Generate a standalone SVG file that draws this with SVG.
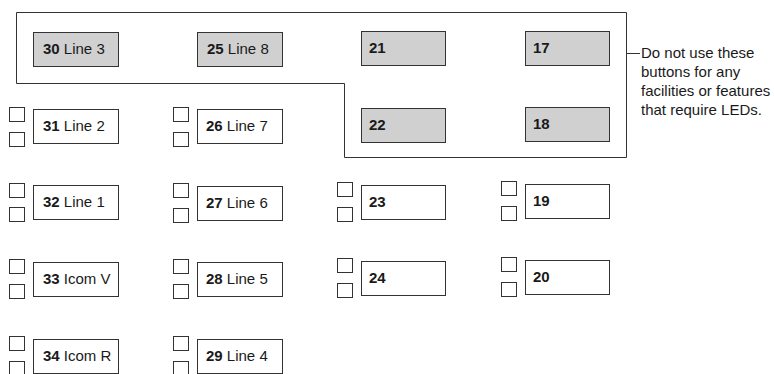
<svg xmlns="http://www.w3.org/2000/svg" width="774" height="374" viewBox="0 0 774 374">
<style>
.btn{stroke:#333;stroke-width:1;fill:#fff}
.gray{fill:#d0d0d0}
.cb{stroke:#333;stroke-width:1;fill:#fff}
.t{font-family:"Liberation Sans",Arial,sans-serif;font-size:15px;fill:#1a1a1a}
.b{font-weight:bold}
.ln{stroke:#333;stroke-width:1;fill:none}
</style>
<rect width="774" height="374" fill="#fff"/>
<g id="connectors">
<path class="ln" d="M16.5,12.5 H626.5 V157.5 H344.5 V83.5 H16.5 Z"/>
<path class="ln" d="M626.5,53.5 H640"/>
</g>
<g id="note">
<text class="t" x="641" y="58">Do not use these</text>
<text class="t" x="641" y="77">buttons for any</text>
<text class="t" x="641" y="96">facilities or features</text>
<text class="t" x="641" y="115">that require LEDs.</text>
</g>
<g id="b30"><rect class="btn gray" x="33.5" y="32.5" width="85" height="34"/><text class="t" x="43" y="54"><tspan class="b">30</tspan> Line 3</text></g>
<g id="b25"><rect class="btn gray" x="197.5" y="32.5" width="85" height="34"/><text class="t" x="207" y="54"><tspan class="b">25</tspan> Line 8</text></g>
<g id="b21"><rect class="btn gray" x="361.5" y="31.5" width="84" height="34"/><text class="t b" x="369" y="53">21</text></g>
<g id="b17"><rect class="btn gray" x="525.5" y="31.5" width="84" height="34"/><text class="t b" x="533" y="53">17</text></g>
<g id="b22"><rect class="btn gray" x="361.5" y="108.5" width="84" height="34"/><text class="t b" x="369" y="130">22</text></g>
<g id="b18"><rect class="btn gray" x="525.5" y="107.5" width="84" height="34"/><text class="t b" x="533" y="129">18</text></g>

<g id="b31"><rect class="cb" x="9.5" y="107.5" width="15" height="14"/><rect class="cb" x="9.5" y="132.5" width="15" height="14"/><rect class="btn" x="33.5" y="109.5" width="85" height="34"/><text class="t" x="43" y="131"><tspan class="b">31</tspan> Line 2</text></g>
<g id="b26"><rect class="cb" x="173.5" y="107.5" width="15" height="14"/><rect class="cb" x="173.5" y="132.5" width="15" height="14"/><rect class="btn" x="197.5" y="109.5" width="85" height="34"/><text class="t" x="206" y="131"><tspan class="b">26</tspan> Line 7</text></g>

<g id="b32"><rect class="cb" x="9.5" y="183.5" width="15" height="14"/><rect class="cb" x="9.5" y="207.5" width="15" height="14"/><rect class="btn" x="33.5" y="185.5" width="85" height="34"/><text class="t" x="43" y="207"><tspan class="b">32</tspan> Line 1</text></g>
<g id="b27"><rect class="cb" x="173.5" y="183.5" width="15" height="14"/><rect class="cb" x="173.5" y="208.5" width="15" height="14"/><rect class="btn" x="197.5" y="186.5" width="85" height="34"/><text class="t" x="206" y="208"><tspan class="b">27</tspan> Line 6</text></g>
<g id="b23"><rect class="cb" x="337.5" y="182.5" width="15" height="14"/><rect class="cb" x="337.5" y="207.5" width="15" height="14"/><rect class="btn" x="361.5" y="185.5" width="84" height="34"/><text class="t b" x="369" y="207">23</text></g>
<g id="b19"><rect class="cb" x="501.5" y="181.5" width="15" height="14"/><rect class="cb" x="501.5" y="206.5" width="15" height="14"/><rect class="btn" x="525.5" y="184.5" width="84" height="34"/><text class="t b" x="533" y="206">19</text></g>

<g id="b33"><rect class="cb" x="9.5" y="259.5" width="15" height="14"/><rect class="cb" x="9.5" y="284.5" width="15" height="14"/><rect class="btn" x="33.5" y="262.5" width="85" height="34"/><text class="t" x="43" y="284"><tspan class="b">33</tspan> Icom V</text></g>
<g id="b28"><rect class="cb" x="173.5" y="259.5" width="15" height="14"/><rect class="cb" x="173.5" y="284.5" width="15" height="14"/><rect class="btn" x="197.5" y="262.5" width="85" height="34"/><text class="t" x="206" y="284"><tspan class="b">28</tspan> Line 5</text></g>
<g id="b24"><rect class="cb" x="337.5" y="258.5" width="15" height="14"/><rect class="cb" x="337.5" y="283.5" width="15" height="14"/><rect class="btn" x="361.5" y="261.5" width="84" height="34"/><text class="t b" x="369" y="283">24</text></g>
<g id="b20"><rect class="cb" x="501.5" y="257.5" width="15" height="14"/><rect class="cb" x="501.5" y="282.5" width="15" height="14"/><rect class="btn" x="525.5" y="260.5" width="84" height="34"/><text class="t b" x="533" y="282">20</text></g>

<g id="b34"><rect class="cb" x="9.5" y="336.5" width="15" height="14"/><rect class="cb" x="9.5" y="361.5" width="15" height="14"/><rect class="btn" x="33.5" y="339.5" width="85" height="34"/><text class="t" x="43" y="361"><tspan class="b">34</tspan> Icom R</text></g>
<g id="b29"><rect class="cb" x="173.5" y="336.5" width="15" height="14"/><rect class="cb" x="173.5" y="361.5" width="15" height="14"/><rect class="btn" x="197.5" y="339.5" width="85" height="34"/><text class="t" x="206" y="361"><tspan class="b">29</tspan> Line 4</text></g>
</svg>
